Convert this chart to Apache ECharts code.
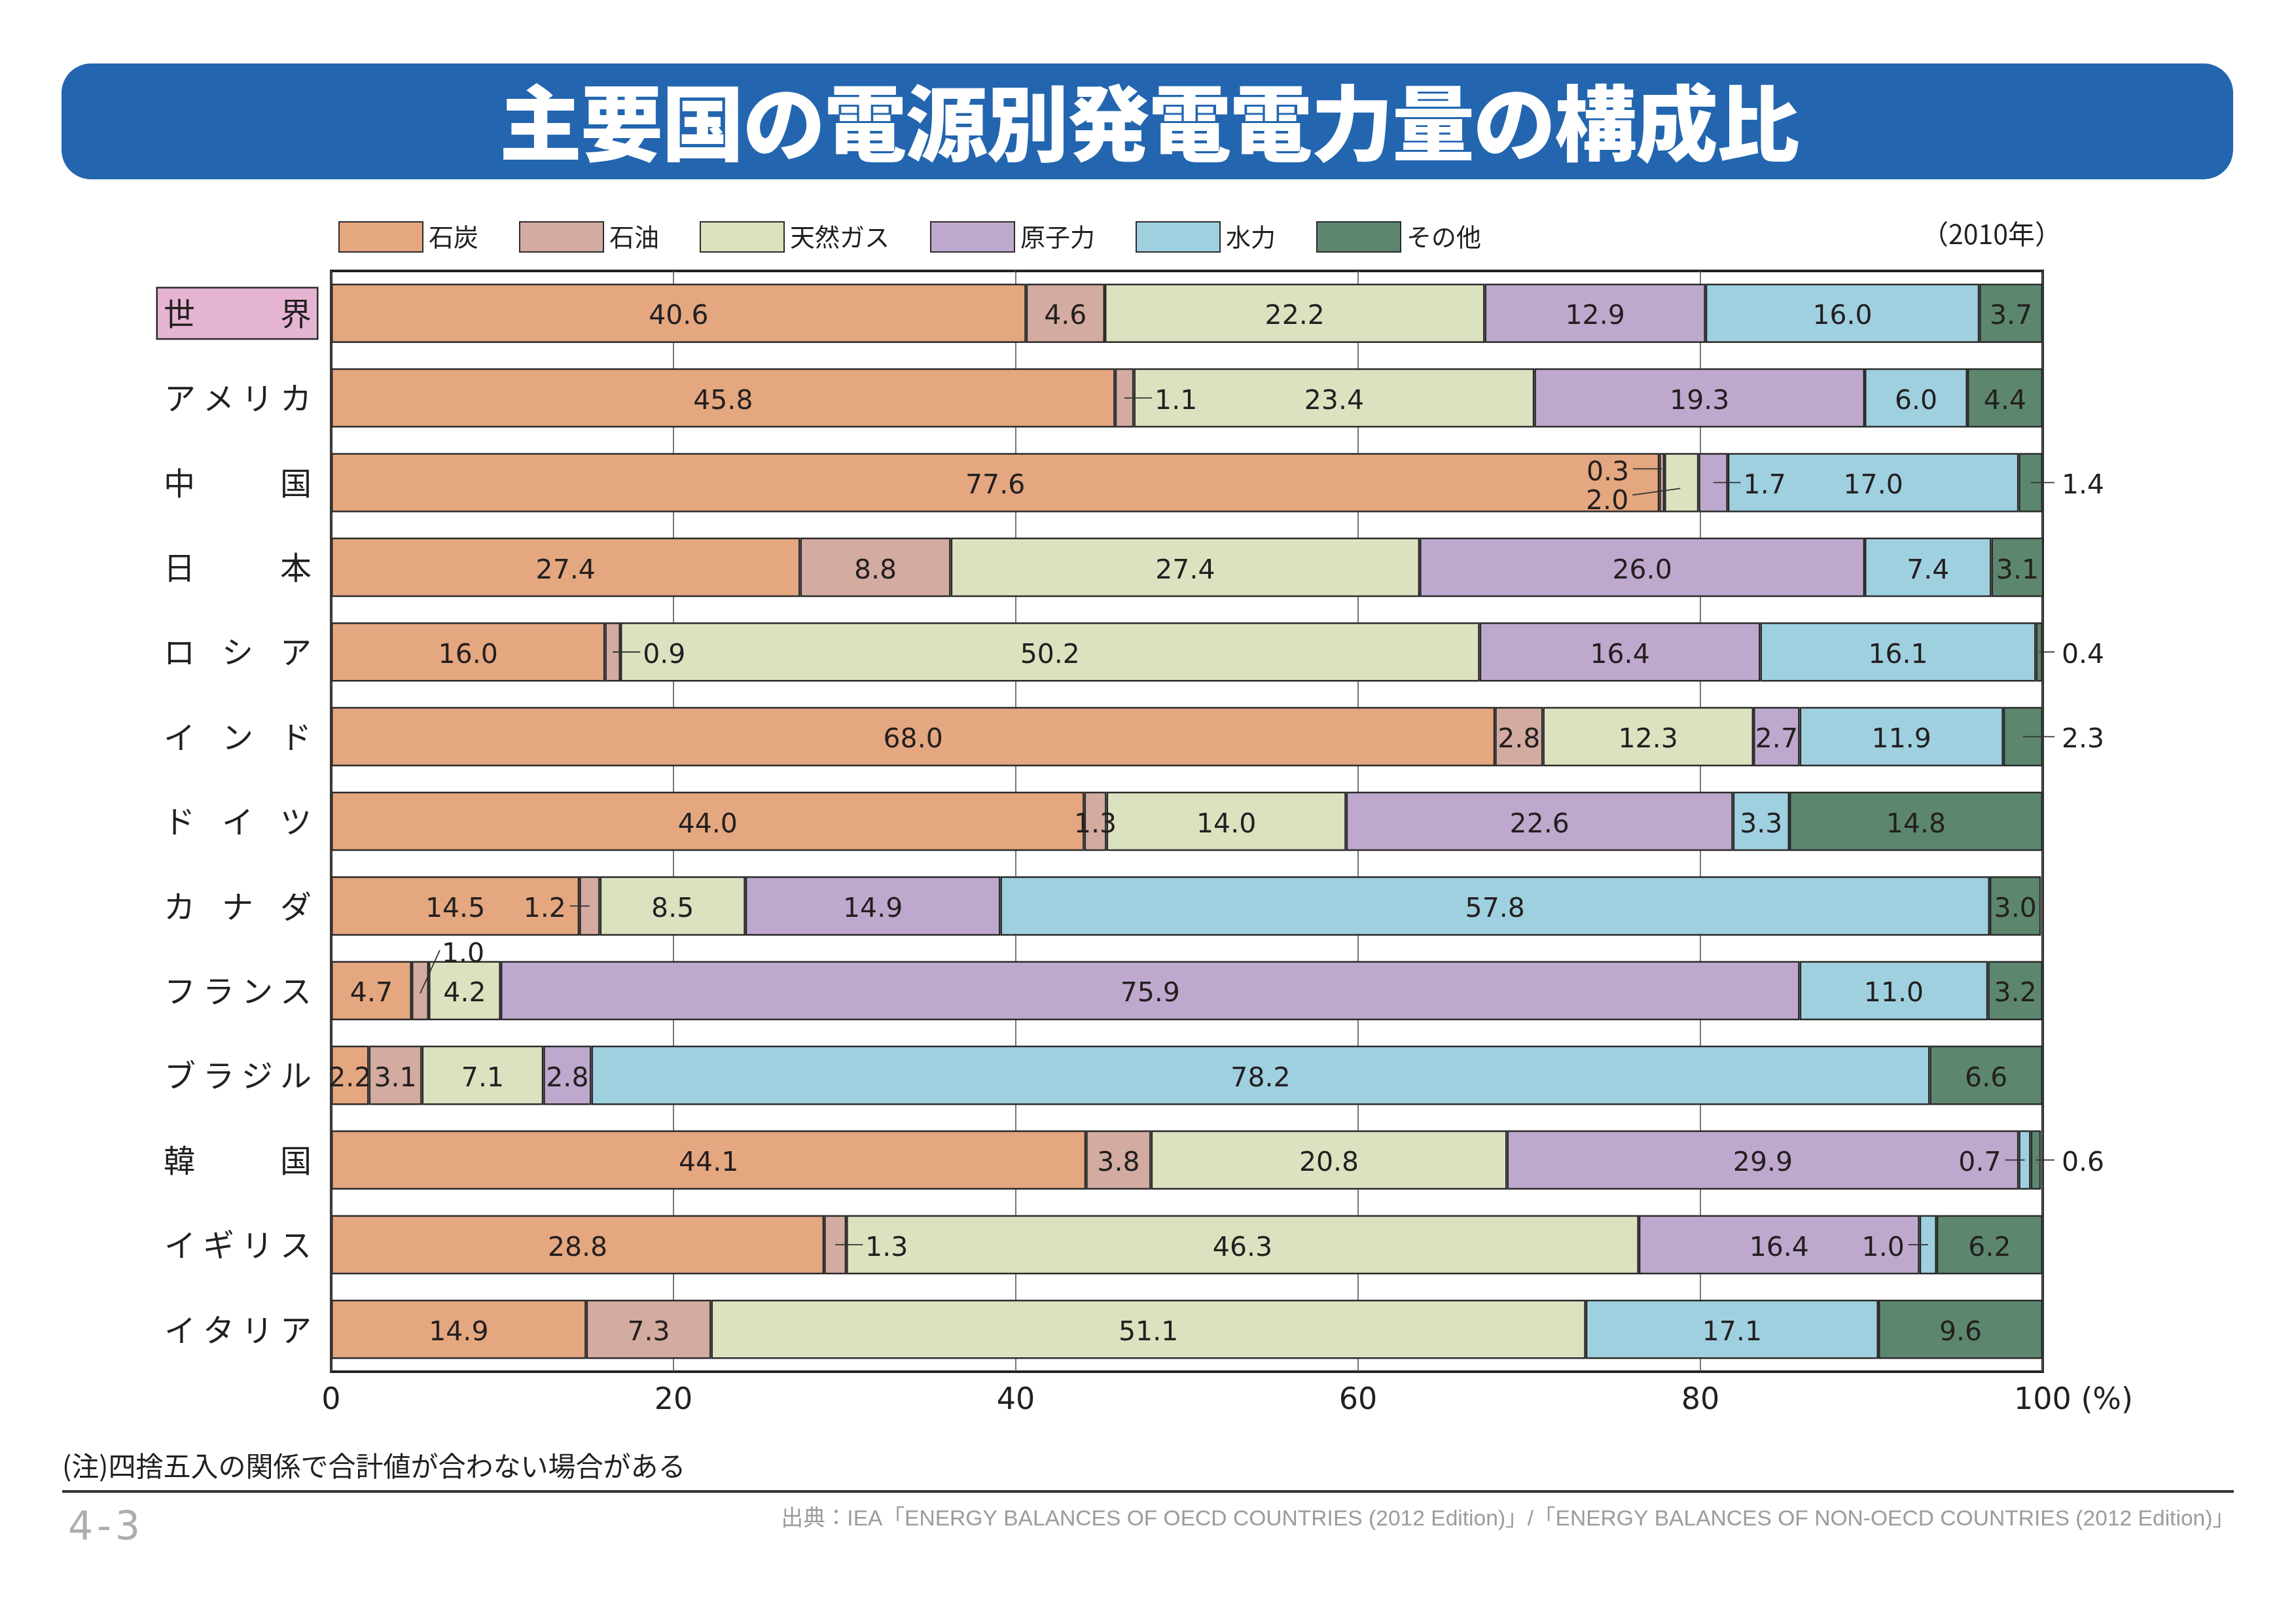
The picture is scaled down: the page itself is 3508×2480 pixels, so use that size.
<!DOCTYPE html>
<html lang="ja">
<head>
<meta charset="UTF-8">
<title>主要国の電源別発電電力量の構成比</title>
<style>
  html, body { margin: 0; padding: 0; background: #ffffff; }
  #main { width: 3508px; height: 2480px; }
</style>
</head>
<body>
<div id="main"></div>
<script src="https://cdn.jsdelivr.net/npm/echarts@6/dist/echarts.min.js"></script>
<script>
// 国名（上から順）
var countries = ['世界', 'アメリカ', '中国', '日本', 'ロシア', 'インド', 'ドイツ', 'カナダ', 'フランス', 'ブラジル', '韓国', 'イギリス', 'イタリア'];
var sources = ['石炭', '石油', '天然ガス', '原子力', '水力', 'その他'];
var colors = ['#E4A77F', '#D3ABA0', '#DCE1BF', '#BFA8CD', '#9FD0E0', '#5C876E'];

// 構成比（%）
var coal    = [40.6, 45.8, 77.6, 27.4, 16.0, 68.0, 44.0, 14.5,  4.7,  2.2, 44.1, 28.8, 14.9];
var oil     = [ 4.6,  1.1,  0.3,  8.8,  0.9,  2.8,  1.3,  1.2,  1.0,  3.1,  3.8,  1.3,  7.3];
var gas     = [22.2, 23.4,  2.0, 27.4, 50.2, 12.3, 14.0,  8.5,  4.2,  7.1, 20.8, 46.3, 51.1];
var nuclear = [12.9, 19.3,  1.7, 26.0, 16.4,  2.7, 22.6, 14.9, 75.9,  2.8, 29.9, 16.4,  0];
var hydro   = [16.0,  6.0, 17.0,  7.4, 16.1, 11.9,  3.3, 57.8, 11.0, 78.2,  0.7,  1.0, 17.1];
var other   = [ 3.7,  4.4,  1.4,  3.1,  0.4,  2.3, 14.8,  3.0,  3.2,  6.6,  0.6,  6.2,  9.6];
var values = [coal, oil, gas, nuclear, hydro, other];

var xMin = 0, xMax = 100, xStep = 20;

// 引き出し線付きのラベル（行, 電源, 置き方）
var callouts = [
    {row: 1,  src: 1, kind: 'right'},
    {row: 2,  src: 1, kind: 'china03'},
    {row: 2,  src: 2, kind: 'china20'},
    {row: 2,  src: 3, kind: 'right'},
    {row: 2,  src: 5, kind: 'out'},
    {row: 4,  src: 1, kind: 'right'},
    {row: 4,  src: 5, kind: 'out'},
    {row: 5,  src: 5, kind: 'out'},
    {row: 7,  src: 1, kind: 'left'},
    {row: 8,  src: 1, kind: 'up'},
    {row: 10, src: 4, kind: 'left'},
    {row: 10, src: 5, kind: 'out'},
    {row: 11, src: 1, kind: 'right'},
    {row: 11, src: 4, kind: 'left'}
];

var numFont = '"DejaVu Sans", "Liberation Sans", sans-serif';
var jpFont = '"Noto Sans CJK JP", "Noto Sans", sans-serif';
var ink = '#231F20';
var textDy = 6; // 数字を帯の中央に見せるための下げ

function hasCallout(row, src) {
    for (var i = 0; i < callouts.length; i++) {
        if (callouts[i].row === row && callouts[i].src === src) return true;
    }
    return false;
}

function startOf(row, src) {
    var s = 0;
    for (var k = 0; k < src; k++) s += values[k][row];
    return s;
}

// 国名を左右いっぱいに割り付ける
function spread(name) {
    var n = name.length;
    var out = '';
    for (var i = 0; i < n; i++) {
        out += (i < n - 1 ? '{g' + n + '|' : '{e|') + name.charAt(i) + '}';
    }
    return out;
}

var labelRich = {
    g2: {width: 178, fontSize: 48, fontFamily: jpFont, color: ink, align: 'left'},
    g3: {width: 89, fontSize: 48, fontFamily: jpFont, color: ink, align: 'left'},
    g4: {width: 59, fontSize: 48, fontFamily: jpFont, color: ink, align: 'left'},
    e:  {width: 48, fontSize: 48, fontFamily: jpFont, color: ink, align: 'left'}
};

var yData = countries.map(function (c, i) {
    if (i === 0) {
        return {value: c, textStyle: {backgroundColor: '#E6B4D3', borderColor: '#2B2B2B', borderWidth: 2.5}};
    }
    return c;
});

var barSeries = sources.map(function (name, s) {
    return {
        name: name,
        type: 'bar',
        stack: 'total',
        barCategoryGap: '30%',
        itemStyle: {color: colors[s], borderColor: '#2B2B2B', borderWidth: 2.5},
        label: {
            show: true,
            position: 'inside',
            offset: [0, textDy],
            fontSize: 41,
            fontFamily: numFont,
            color: ink,
            formatter: function (p) { return Number(p.value).toFixed(1); }
        },
        emphasis: {disabled: true},
        data: values[s].map(function (v, row) {
            if (v === 0) return '-';
            if (hasCallout(row, s)) return {value: v, label: {show: false}};
            return v;
        })
    };
});

var calloutSeries = {
    name: 'callout',
    type: 'custom',
    z: 10,
    clip: false,
    silent: true,
    encode: {x: 0, y: 1},
    data: callouts.map(function (c) { return [startOf(c.row, c.src), c.row]; }),
    renderItem: function (params, api) {
        var c = callouts[params.dataIndex];
        var v = values[c.src][c.row];
        var a = startOf(c.row, c.src);
        var p0 = api.coord([a, c.row]);
        var p1 = api.coord([a + v, c.row]);
        var cx = (p0[0] + p1[0]) / 2;
        var cy = p0[1];
        var plotRight = api.coord([xMax, c.row])[0];
        var l0, l1, t, align = 'left';
        if (c.kind === 'right') {
            l0 = [cx, cy]; l1 = [cx + 42, cy]; t = [cx + 46, cy];
        } else if (c.kind === 'left') {
            l0 = [cx, cy]; l1 = [cx - 30, cy]; t = [cx - 36, cy]; align = 'right';
        } else if (c.kind === 'out') {
            l0 = [cx, cy]; l1 = [plotRight + 18, cy]; t = [plotRight + 29, cy];
        } else if (c.kind === 'china03') {
            l0 = [cx, cy - 21]; l1 = [cx - 44, cy - 21]; t = [cx - 50, cy - 20]; align = 'right';
        } else if (c.kind === 'china20') {
            l0 = [cx - 2, cy + 9]; l1 = [cx - 75, cy + 19]; t = [cx - 81, cy + 24]; align = 'right';
        } else { // up
            l0 = [cx, cy + 4]; l1 = [cx + 30, cy - 62]; t = [cx + 33, cy - 60];
        }
        return {
            type: 'group',
            children: [
                {type: 'line', shape: {x1: l0[0], y1: l0[1], x2: l1[0], y2: l1[1]},
                 style: {stroke: '#333333', lineWidth: 1.8}},
                {type: 'text', style: {text: v.toFixed(1), x: t[0], y: t[1] + textDy, align: align, verticalAlign: 'middle',
                 fontSize: 41, fontFamily: numFont, fill: ink}}
            ]
        };
    }
};

var titleText = '主要国の電源別発電電力量の構成比';
var titleRich = '';
for (var i = 0; i < titleText.length; i++) titleRich += '{t|' + titleText.charAt(i) + '}';

var chart = echarts.init(document.getElementById('main'), null, {renderer: 'canvas'});
var option = {
    backgroundColor: '#ffffff',
    animation: false,
    legend: {
        data: sources,
        left: 512,
        top: 333,
        itemWidth: 128,
        itemHeight: 46,
        itemGap: 62,
        icon: 'rect',
        selectedMode: false,
        textStyle: {fontSize: 38, fontFamily: jpFont, color: ink, padding: [0, 0, 0, 4]}
    },
    grid: {
        left: 506,
        right: 387,
        top: 414,
        bottom: 384,
        containLabel: false,
        show: true,
        borderColor: '#222222',
        borderWidth: 4,
        backgroundColor: 'transparent'
    },
    xAxis: {
        type: 'value',
        min: xMin,
        max: xMax,
        interval: xStep,
        axisLine: {show: false},
        axisTick: {show: false},
        splitLine: {show: true, lineStyle: {color: '#555555', width: 1.6}},
        axisLabel: {
            margin: 22,
            fontSize: 46,
            fontFamily: numFont,
            color: ink,
            formatter: function (v) { return v === xMax ? '{h| }' + v + ' (%)' : String(v); },
            rich: {h: {width: 94}}
        }
    },
    yAxis: {
        type: 'category',
        inverse: true,
        data: yData,
        axisLine: {show: false},
        axisTick: {show: false},
        splitLine: {show: false},
        axisLabel: {
            margin: 22,
            padding: [14, 8, 14, 9],
            formatter: spread,
            rich: labelRich
        }
    },
    graphic: [
        {type: 'rect', shape: {x: 94, y: 97, width: 3318, height: 177, r: 45}, style: {fill: '#2366AF'}},
        {type: 'text', x: 1756, y: 188, style: {text: titleRich, align: 'center', verticalAlign: 'middle',
            rich: {t: {width: 124, align: 'center', fontSize: 126, fontWeight: 900, fontFamily: jpFont, fill: '#ffffff'}}}},
        {type: 'text', x: 3150, y: 357, style: {text: '（2010年）', align: 'right', verticalAlign: 'middle',
            fontSize: 41, fontFamily: jpFont, fill: ink}},
        {type: 'text', x: 95, y: 2240, style: {text: '(注)四捨五入の関係で合計値が合わない場合がある', align: 'left', verticalAlign: 'middle',
            fontSize: 42, fontFamily: jpFont, fill: ink}},
        {type: 'rect', shape: {x: 95, y: 2277, width: 3318, height: 4}, style: {fill: '#333333'}},
        {type: 'text', x: 101, y: 2336, style: {text: '{a|4}{b|-}{a|3}', align: 'left', verticalAlign: 'middle',
            rich: {
                a: {width: 44, align: 'center', fontSize: 60, fontFamily: numFont, fill: '#ADADAD'},
                b: {width: 28, align: 'center', fontSize: 60, fontFamily: numFont, fill: '#ADADAD'}
            }}},
        {type: 'text', x: 3414, y: 2322, style: {text: '出典：IEA「ENERGY BALANCES OF OECD COUNTRIES (2012 Edition)」/「ENERGY BALANCES OF NON-OECD COUNTRIES (2012 Edition)」',
            align: 'right', verticalAlign: 'middle', fontSize: 33.6, fontFamily: '"Liberation Sans", "Noto Sans CJK JP", sans-serif', fill: '#9C9C9C'}}
    ],
    series: barSeries.concat([calloutSeries])
};
chart.setOption(option);

window.addEventListener('resize', function () {
    chart.resize();
});
</script>
</body>
</html>
